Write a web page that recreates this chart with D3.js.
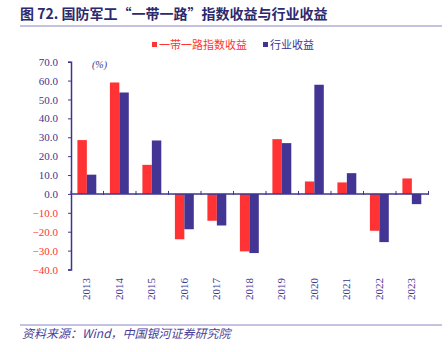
<!DOCTYPE html>
<html>
<head>
<meta charset="utf-8">
<script src="https://cdn.jsdelivr.net/npm/d3@7"></script>
<style>
  body { margin: 0; background: #fff; }
  svg { display: block; }
</style>
</head>
<body>
<svg width="448" height="352"></svg>
<script>
const years = ['2013','2014','2015','2016','2017','2018','2019','2020','2021','2022','2023'];
const indexReturn = [28.5, 59.0, 15.4, -24.0, -14.2, -30.4, 29.0, 6.6, 6.1, -19.5, 8.2];
const industryReturn = [10.2, 53.7, 28.3, -18.7, -16.7, -31.3, 26.9, 57.8, 11.0, -25.5, -5.4];
const yTicks = [70, 60, 50, 40, 30, 20, 10, 0, -10, -20, -30, -40];
const seriesNames = ['一带一路指数收益', '行业收益'];

const navy = '#3d3590';
const red = '#ff3333';
const blue = '#433593';
const cjk = '"Noto Sans CJK SC", sans-serif';
const serif = '"Liberation Serif", "DejaVu Serif", serif';

const svg = d3.select('svg');
const margin = {left: 71, right: 20, top: 62, bottom: 82};

// title
svg.append('text')
    .attr('x', 20).attr('y', 19)
    .attr('font-family', cjk).attr('font-weight', 'bold')
    .attr('font-size', 14).attr('fill', '#2b2a6e')
    .text('图 72. 国防军工“一带一路”指数收益与行业收益');
svg.append('line')
    .attr('x1', 20).attr('x2', 442).attr('y1', 26).attr('y2', 26)
    .attr('stroke', '#8b86c4').attr('stroke-width', 1);

// legend
const legend = [
  {x: 152, color: red, text: seriesNames[0]},
  {x: 263, color: blue, text: seriesNames[1]}
];
legend.forEach(l => {
  svg.append('rect').attr('x', l.x).attr('y', 42).attr('width', 5).attr('height', 5).attr('fill', l.color);
  svg.append('text').attr('x', l.x + 7).attr('y', 49)
      .attr('font-family', cjk).attr('font-size', 11)
      .attr('fill', l.color === red ? red : navy)
      .text(l.text);
});

const x = d3.scaleBand().domain(years).range([margin.left, 428.5]);
const y = d3.scaleLinear().domain([-40, 70]).range([269.5, 61.7]);
const inner = d3.scaleBand().domain([0, 1]).range([0, x.bandwidth()]).paddingInner(0).paddingOuter(0.72);

// y axis
const yAxisG = svg.append('g').attr('transform', `translate(${margin.left},0)`)
    .call(d3.axisLeft(y).tickValues(yTicks).tickSize(3).tickFormat(d3.format('.1f')));
yAxisG.select('.domain').attr('stroke', navy).attr('stroke-width', 1.5);
yAxisG.selectAll('.tick line').attr('stroke', navy);
yAxisG.selectAll('.tick text')
    .attr('x', -13)
    .attr('font-family', serif).attr('font-size', 11)
    .attr('fill', d => d < 0 ? red : navy);
svg.append('text')
    .attr('x', 92).attr('y', 68)
    .attr('font-family', serif).attr('font-style', 'italic').attr('font-size', 10)
    .attr('fill', navy).text('(%)');

// bars
const g = svg.append('g');
years.forEach((yr, i) => {
  [indexReturn[i], industryReturn[i]].forEach((v, k) => {
    g.append('rect')
        .attr('x', x(yr) + inner(k) - 0.4)
        .attr('width', inner.bandwidth())
        .attr('y', y(Math.max(0, v)))
        .attr('height', Math.abs(y(v) - y(0)))
        .attr('fill', k === 0 ? red : blue);
  });
});

// x axis at zero
svg.append('line')
    .attr('x1', margin.left).attr('x2', 428.5)
    .attr('y1', y(0)).attr('y2', y(0))
    .attr('stroke', navy).attr('stroke-width', 1.5);
const bounds = years.map(d => x(d)).concat([x(years[years.length - 1]) + x.bandwidth()]);
svg.selectAll('.xtick').data(bounds).enter().append('line')
    .attr('x1', d => d).attr('x2', d => d)
    .attr('y1', y(0) - 3).attr('y2', y(0) + 1)
    .attr('stroke', navy).attr('stroke-width', 1);

// x labels rotated
svg.selectAll('.xlabel').data(years).enter().append('text')
    .attr('transform', d => `translate(${x(d) + x.bandwidth() / 2 - 1},278) rotate(-90)`)
    .attr('text-anchor', 'end').attr('dy', '0.35em')
    .attr('font-family', serif).attr('font-size', 11)
    .attr('fill', navy)
    .text(d => d);

// footer
svg.append('line')
    .attr('x1', 20).attr('x2', 442).attr('y1', 325).attr('y2', 325)
    .attr('stroke', '#8b86c4').attr('stroke-width', 1);
svg.append('text')
    .attr('x', 22).attr('y', 338)
    .attr('font-family', cjk).attr('font-style', 'italic')
    .attr('font-size', 12).attr('fill', '#4a3f9a')
    .text('资料来源：Wind，中国银河证券研究院');
</script>
</body>
</html>
